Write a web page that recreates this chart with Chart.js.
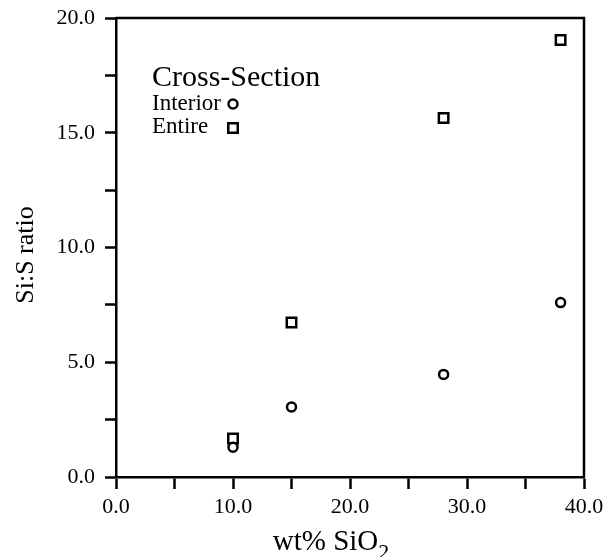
<!DOCTYPE html>
<html>
<head>
<meta charset="utf-8">
<script src="https://cdn.jsdelivr.net/npm/chart.js@4/dist/chart.umd.min.js"></script>
<style>
html,body{margin:0;padding:0;background:#fff;}
canvas{display:block;}
</style>
</head>
<body>
<canvas id="c" width="605" height="557"></canvas>
<script>
const xValues = [10, 15, 28, 38];
const interiorValues = [1.3, 3.05, 4.47, 7.6];
const entireValues = [1.68, 6.73, 15.64, 19.04];
const seriesNames = ['Interior', 'Entire'];
const legendTitle = 'Cross-Section';
const xTitle = 'wt% SiO';
const xTitleSub = '2';
const yTitle = 'Si:S ratio';
const xMin = 0, xMax = 40, xStep = 5, xLabelEvery = 10;
const yMin = 0, yMax = 20, yStep = 2.5, yLabelEvery = 5;

const FONT = '"Liberation Serif", "Times New Roman", serif';

const toPts = (xs, ys) => xs.map((x, i) => ({x: x, y: ys[i]}));

const decor = {
  id: 'decor',
  afterDraw(chart) {
    const ctx = chart.ctx;
    const a = chart.chartArea;
    ctx.save();
    // top and right frame lines
    ctx.strokeStyle = '#000';
    ctx.lineWidth = 2.5;
    ctx.beginPath();
    ctx.moveTo(a.left, a.top);
    ctx.lineTo(a.right, a.top);
    ctx.lineTo(a.right, a.bottom);
    ctx.stroke();

    ctx.fillStyle = '#000';
    // y axis title
    ctx.save();
    ctx.translate(33, 255);
    ctx.rotate(-Math.PI / 2);
    ctx.font = '26px ' + FONT;
    ctx.textAlign = 'center';
    ctx.textBaseline = 'alphabetic';
    ctx.fillText(yTitle, 0, 0);
    ctx.restore();

    // x axis title with subscript
    ctx.font = '29px ' + FONT;
    ctx.textAlign = 'left';
    ctx.textBaseline = 'alphabetic';
    const w1 = ctx.measureText(xTitle).width;
    ctx.font = '22px ' + FONT;
    const w2 = ctx.measureText(xTitleSub).width;
    const startX = 331 - (w1 + w2) / 2;
    ctx.font = '29px ' + FONT;
    ctx.fillText(xTitle, startX, 550);
    ctx.font = '22px ' + FONT;
    ctx.fillText(xTitleSub, startX + w1, 559);

    // legend
    ctx.font = '30px ' + FONT;
    ctx.fillText(legendTitle, 152, 86);
    ctx.font = '23px ' + FONT;
    ctx.fillText(seriesNames[0], 152, 110);
    ctx.fillText(seriesNames[1], 152, 133);
    ctx.lineWidth = 2.5;
    ctx.beginPath();
    ctx.arc(233, 104, 4.5, 0, Math.PI * 2);
    ctx.stroke();
    ctx.strokeRect(233 - 4.75, 128 - 4.75, 9.5, 9.5);
    ctx.restore();
  }
};

function zeroPad(s) {
  s.paddingLeft = 0; s.paddingRight = 0; s.paddingTop = 0; s.paddingBottom = 0;
}

new Chart(document.getElementById('c'), {
  type: 'scatter',
  data: {
    datasets: [
      {
        label: seriesNames[0],
        data: toPts(xValues, interiorValues),
        pointStyle: 'circle',
        pointRadius: 4.5,
        pointHoverRadius: 4.5,
        borderWidth: 2.5,
        borderColor: '#000',
        backgroundColor: '#fff'
      },
      {
        label: seriesNames[1],
        data: toPts(xValues, entireValues),
        pointStyle: 'rect',
        pointRadius: 6.7,
        pointHoverRadius: 6.7,
        borderWidth: 2.5,
        borderColor: '#000',
        backgroundColor: '#fff'
      }
    ]
  },
  options: {
    responsive: false,
    animation: false,
    events: [],
    layout: {padding: {top: 18, right: 21, left: 0, bottom: 0}},
    plugins: {legend: {display: false}, tooltip: {enabled: false}},
    scales: {
      x: {
        type: 'linear',
        min: xMin, max: xMax,
        afterFit(s) { s.height = 80; zeroPad(s); },
        border: {display: true, color: '#000', width: 2.5},
        grid: {drawOnChartArea: false, drawTicks: true, tickLength: 12, tickWidth: 2.5, tickColor: '#000'},
        ticks: {
          stepSize: xStep,
          autoSkip: false,
          maxRotation: 0,
          padding: 5,
          color: '#000',
          font: {family: FONT, size: 22},
          callback: v => (Math.abs(v % xLabelEvery) < 1e-9 ? v.toFixed(1) : '')
        }
      },
      y: {
        type: 'linear',
        min: yMin, max: yMax,
        afterFit(s) { s.width = 116; zeroPad(s); },
        border: {display: true, color: '#000', width: 2.5},
        grid: {drawOnChartArea: false, drawTicks: true, tickLength: 11, tickWidth: 2.5, tickColor: '#000'},
        ticks: {
          stepSize: yStep,
          autoSkip: false,
          padding: 10,
          color: '#000',
          font: {family: FONT, size: 22},
          callback: v => (Math.abs(v % yLabelEvery) < 1e-9 ? v.toFixed(1) : '')
        }
      }
    }
  },
  plugins: [decor]
});
</script>
</body>
</html>
